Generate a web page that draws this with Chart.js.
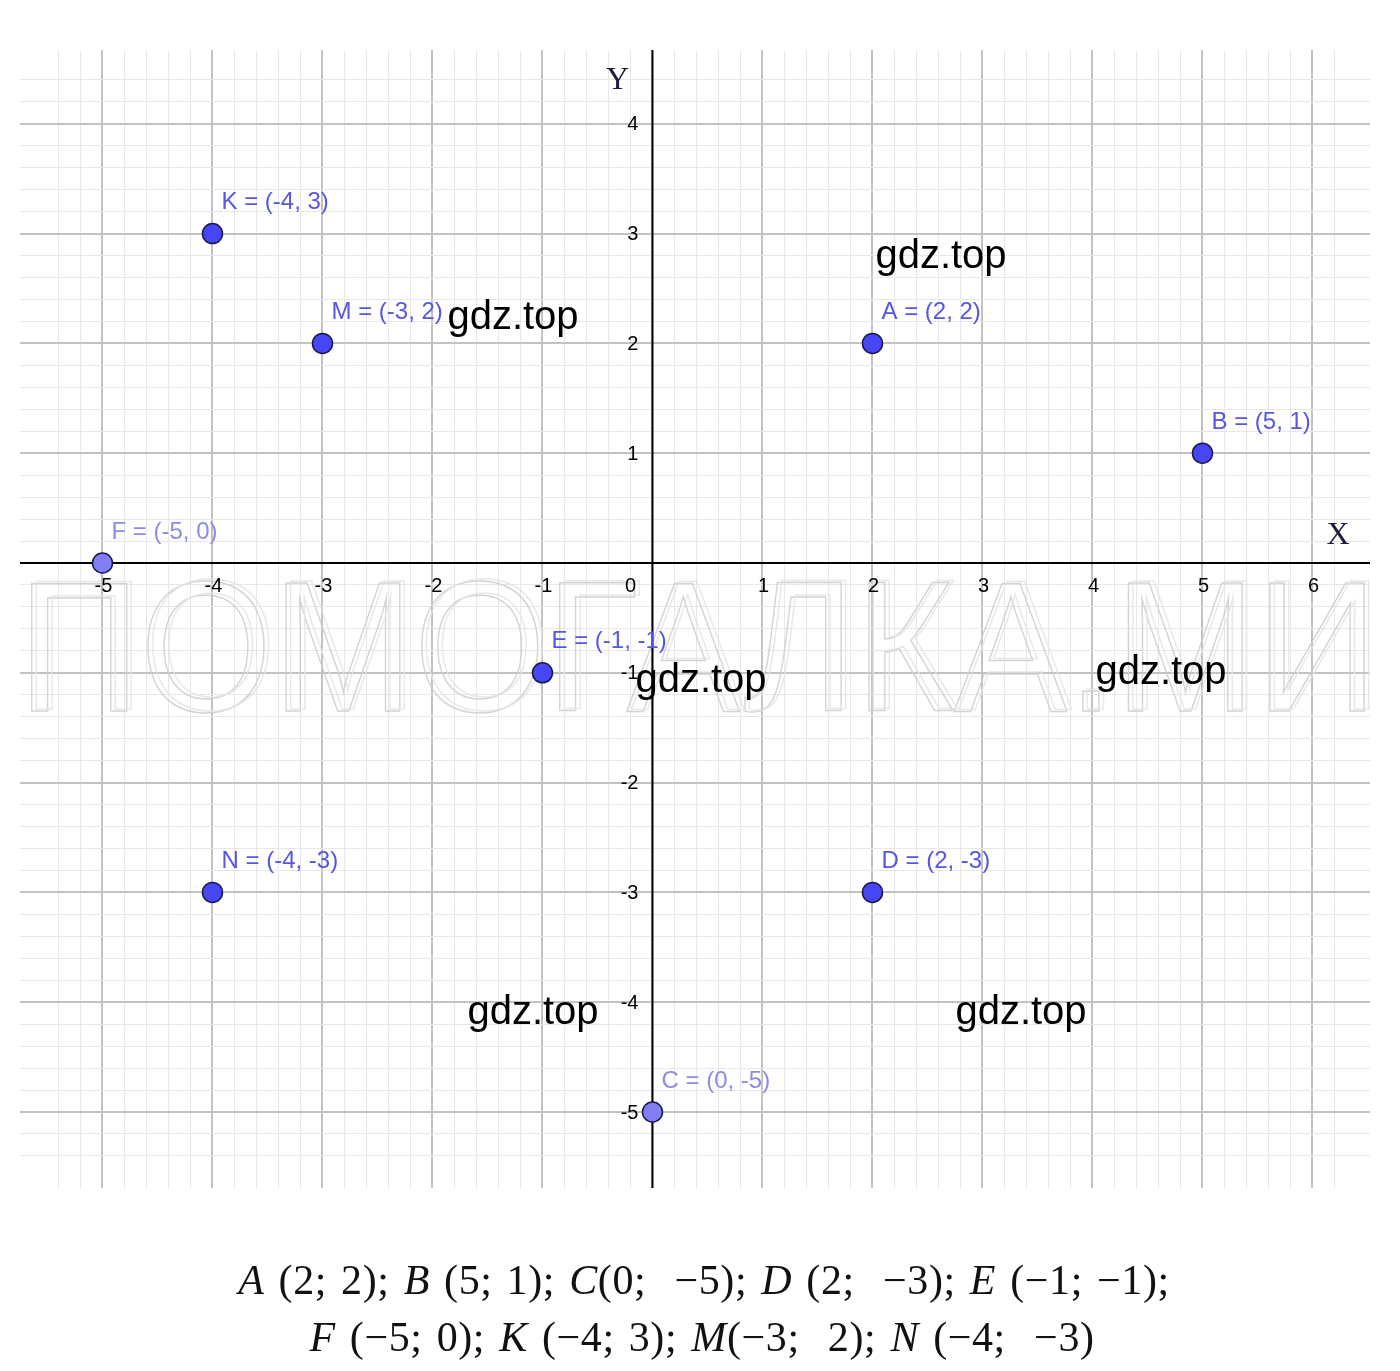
<!DOCTYPE html>
<html>
<head>
<meta charset="utf-8">
<script src="https://cdn.jsdelivr.net/npm/chart.js@4/dist/chart.umd.min.js"></script>
<style>
  html, body { margin: 0; padding: 0; background: #ffffff; }
  #wrap { position: relative; width: 1400px; height: 1371px; }
  canvas { position: absolute; left: 0; top: 0; }
  .formula { position: absolute; left: 0; width: 1400px; text-align: center; line-height: 46px;
             font-family: "Liberation Serif", "DejaVu Serif", serif; font-size: 42px; color: #111;
             white-space: pre; word-spacing: 3px; letter-spacing: 0.6px; }
  .formula i { font-style: italic; }
</style>
</head>
<body>
<div id="wrap">
  <canvas id="c" width="1400" height="1371"></canvas>
  <div class="formula" id="f1" style="top:1257px; padding-left:4px;"></div>
  <div class="formula" id="f2" style="top:1314px; padding-left:2px;"></div>
</div>
<script>
// ---- data ----
const pointNames = ['A', 'B', 'C', 'D', 'E', 'F', 'K', 'M', 'N'];
const pointX = [2, 5, 0, 2, -1, -5, -4, -3, -4];
const pointY = [2, 1, -5, -3, -1, 0, 3, 2, -3];
const pointLabels = ['A = (2, 2)', 'B = (5, 1)', 'C = (0, -5)', 'D = (2, -3)', 'E = (-1, -1)',
                     'F = (-5, 0)', 'K = (-4, 3)', 'M = (-3, 2)', 'N = (-4, -3)'];
const lightPoints = ['C', 'F'];
const xTickValues = [-5, -4, -3, -2, -1, 1, 2, 3, 4, 5, 6];
const xTickLabels = ['-5', '-4', '-3', '-2', '-1', '1', '2', '3', '4', '5', '6'];
const yTickValues = [4, 3, 2, 1, -1, -2, -3, -4, -5];
const yTickLabels = ['4', '3', '2', '1', '-1', '-2', '-3', '-4', '-5'];
const answerLine1 = [['A', ' (2; 2); '], ['B', ' (5; 1); '], ['C', '(0;  −5); '], ['D', ' (2;  −3); '], ['E', ' (−1; −1);']];
const answerLine2 = [['F', ' (−5; 0); '], ['K', ' (−4; 3); '], ['M', '(−3;  2); '], ['N', ' (−4;  −3)']];
const watermarkBig = 'ПОМОГАЛКА.МИ';
const watermarkSmall = 'gdz.top';
const watermarkSpots = [[941, 257], [513, 318], [701, 681], [1161, 673], [533, 1013], [1021, 1013]];

// formulas as real HTML text
function fillFormula(el, parts) {
  el.innerHTML = parts.map(p => '<i>' + p[0] + '</i>' + p[1]).join('');
}
fillFormula(document.getElementById('f1'), answerLine1);
fillFormula(document.getElementById('f2'), answerLine2);

const darkFill = '#4646f4';
const lightFill = '#8080f4';
const darkText = '#5656e0';
const lightText = '#8c8ce4';

const points = pointNames.map((n, i) => ({ x: pointX[i], y: pointY[i], name: n, label: pointLabels[i] }));

const isMajor = v => Math.abs(v - Math.round(v)) < 1e-6;
function filterTicks(scale) {
  scale.ticks = scale.ticks.filter(t => Math.abs(t.value * 5 - Math.round(t.value * 5)) < 1e-6);
}
const gridOpts = {
  color: ctx => (ctx.tick && isMajor(ctx.tick.value)) ? '#c2c2c2' : '#e7e7e7',
  lineWidth: ctx => (ctx.tick && isMajor(ctx.tick.value)) ? 2 : 1,
  drawTicks: false
};

const overlayPlugin = {
  id: 'overlay',
  beforeDatasetsDraw(chart) {
    const { ctx, chartArea: a, scales: { x, y } } = chart;
    // big outline watermark
    ctx.save();
    ctx.beginPath();
    ctx.rect(a.left, a.top, a.right - a.left, a.bottom - a.top);
    ctx.clip();
    ctx.font = '186px "Liberation Sans", Arial, sans-serif';
    const w = ctx.measureText(watermarkBig).width;
    ctx.translate(18, 711);
    ctx.scale(1360 / w, 1);
    ctx.textBaseline = 'alphabetic';
    ctx.lineWidth = 1.5;
    ctx.strokeStyle = 'rgba(205,205,205,0.85)';
    ctx.strokeText(watermarkBig, 0, 0);
    ctx.strokeStyle = 'rgba(228,228,228,0.85)';
    ctx.strokeText(watermarkBig, 5, -2);
    ctx.restore();

    // axes
    const x0 = x.getPixelForValue(0);
    const y0 = y.getPixelForValue(0);
    ctx.save();
    ctx.strokeStyle = '#000000';
    ctx.lineWidth = 2;
    ctx.beginPath();
    ctx.moveTo(a.left, y0); ctx.lineTo(a.right, y0);
    ctx.moveTo(x0, a.top); ctx.lineTo(x0, a.bottom);
    ctx.stroke();

    // tick labels
    ctx.fillStyle = '#000000';
    ctx.font = '20px "Liberation Sans", Arial, sans-serif';
    ctx.textAlign = 'center';
    ctx.textBaseline = 'middle';
    xTickValues.forEach((v, i) => {
      ctx.fillText(xTickLabels[i], x.getPixelForValue(v) + 1, y0 + 23);
    });
    ctx.fillText('0', x0 - 22, y0 + 23);
    ctx.textAlign = 'right';
    yTickValues.forEach((v, i) => {
      ctx.fillText(yTickLabels[i], x0 - 14, y.getPixelForValue(v) + 1);
    });

    // axis names
    ctx.font = '32px "Liberation Serif", "DejaVu Serif", serif';
    ctx.fillStyle = '#1c1c3c';
    ctx.textAlign = 'center';
    ctx.fillText('Y', x0 - 35, 81);
    ctx.fillText('X', a.right - 32, y0 - 27);
    ctx.restore();
  },
  afterDatasetsDraw(chart) {
    const { ctx, scales: { x, y } } = chart;
    ctx.save();
    ctx.font = '24px "Liberation Sans", Arial, sans-serif';
    ctx.textAlign = 'left';
    ctx.textBaseline = 'middle';
    points.forEach(p => {
      ctx.fillStyle = lightPoints.includes(p.name) ? lightText : darkText;
      ctx.fillText(p.label, x.getPixelForValue(p.x) + 9, y.getPixelForValue(p.y) - 31);
    });
    ctx.restore();
  },
  afterDraw(chart) {
    const { ctx } = chart;
    ctx.save();
    ctx.font = '40px "Liberation Sans", Arial, sans-serif';
    ctx.fillStyle = '#000000';
    ctx.textAlign = 'center';
    ctx.textBaseline = 'middle';
    watermarkSpots.forEach(s => ctx.fillText(watermarkSmall, s[0], s[1]));
    ctx.restore();
  }
};

new Chart(document.getElementById('c'), {
  type: 'scatter',
  data: {
    datasets: [{
      data: points,
      pointRadius: 10,
      pointBorderWidth: 1.5,
      pointBorderColor: '#1a1a4a',
      pointBackgroundColor: points.map(p => lightPoints.includes(p.name) ? lightFill : darkFill),
      showLine: false
    }]
  },
  options: {
    responsive: false,
    animation: false,
    events: [],
    layout: { padding: { left: 20, top: 50, right: 30, bottom: 183 } },
    plugins: { legend: { display: false }, tooltip: { enabled: false } },
    scales: {
      x: {
        type: 'linear', min: -5.75, max: 6.523,
        ticks: { display: false, stepSize: 0.2 },
        afterBuildTicks: filterTicks,
        grid: gridOpts,
        border: { display: false }
      },
      y: {
        type: 'linear', min: -5.692, max: 4.672,
        ticks: { display: false, stepSize: 0.2 },
        afterBuildTicks: filterTicks,
        grid: gridOpts,
        border: { display: false }
      }
    }
  },
  plugins: [overlayPlugin]
});
</script>
</body>
</html>
